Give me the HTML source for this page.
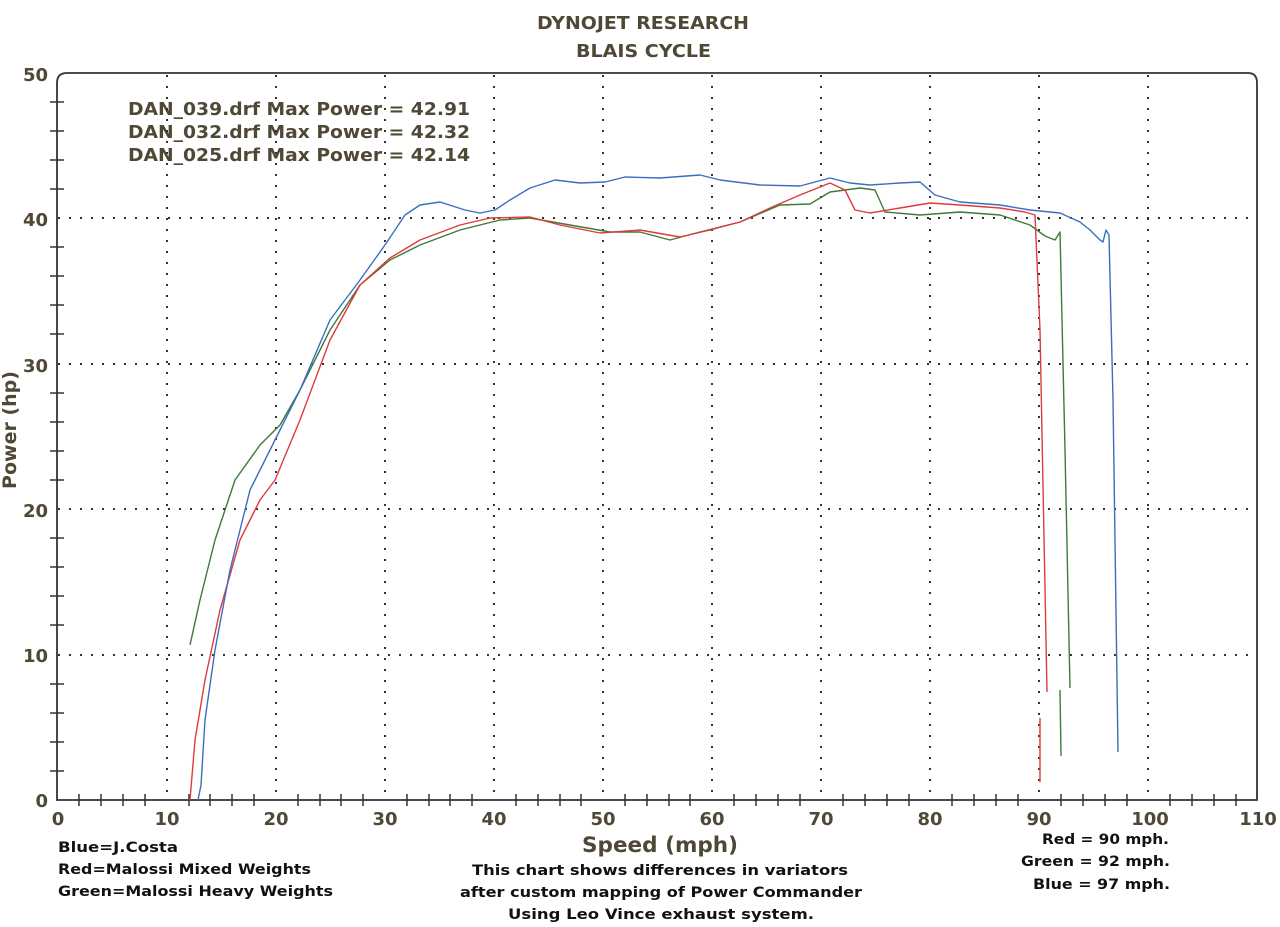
<!DOCTYPE html>
<html><head><meta charset="utf-8"><style>
body{margin:0;background:#fff;}
svg{display:block;font-family:"DejaVu Sans","Liberation Sans",sans-serif;font-weight:bold;}
</style></head><body>
<svg width="1280" height="927" viewBox="0 0 1280 927" xmlns="http://www.w3.org/2000/svg">
<rect width="1280" height="927" fill="#fff"/>
<g fill="#4f4836">
<text x="537" y="29" font-size="18" textLength="212" lengthAdjust="spacingAndGlyphs">DYNOJET RESEARCH</text>
<text x="576" y="57" font-size="18" textLength="135" lengthAdjust="spacingAndGlyphs">BLAIS CYCLE</text>
<text x="128" y="115" font-size="18" textLength="342" lengthAdjust="spacingAndGlyphs">DAN_039.drf Max Power = 42.91</text>
<text x="128" y="138" font-size="18" textLength="342" lengthAdjust="spacingAndGlyphs">DAN_032.drf Max Power = 42.32</text>
<text x="128" y="161" font-size="18" textLength="342" lengthAdjust="spacingAndGlyphs">DAN_025.drf Max Power = 42.14</text>
<g font-size="18" text-anchor="end">
<text x="48" y="81">50</text><text x="48" y="226">40</text><text x="48" y="372">30</text>
<text x="48" y="517">20</text><text x="48" y="662">10</text><text x="48" y="807">0</text>
</g>
<g font-size="18" text-anchor="middle">
<text x="58" y="825">0</text><text x="167" y="825">10</text><text x="276" y="825">20</text>
<text x="385" y="825">30</text><text x="494" y="825">40</text><text x="603" y="825">50</text>
<text x="712" y="825">60</text><text x="821" y="825">70</text><text x="930" y="825">80</text>
<text x="1039" y="825">90</text><text x="1150" y="825">100</text><text x="1258" y="825">110</text>
</g>
<text x="582" y="852" font-size="21" textLength="156" lengthAdjust="spacingAndGlyphs">Speed (mph)</text>
<text transform="translate(16,430) rotate(-90)" font-size="19" text-anchor="middle">Power (hp)</text>
</g>
<g fill="#111" font-size="14">
<text x="58" y="852" textLength="120" lengthAdjust="spacingAndGlyphs">Blue=J.Costa</text>
<text x="58" y="874" textLength="253" lengthAdjust="spacingAndGlyphs">Red=Malossi Mixed Weights</text>
<text x="58" y="896" textLength="275" lengthAdjust="spacingAndGlyphs">Green=Malossi Heavy Weights</text>
<text x="472" y="875" textLength="376" lengthAdjust="spacingAndGlyphs">This chart shows differences in variators</text>
<text x="460" y="897" textLength="402" lengthAdjust="spacingAndGlyphs">after custom mapping of Power Commander</text>
<text x="508" y="919" textLength="306" lengthAdjust="spacingAndGlyphs">Using Leo Vince exhaust system.</text>
<text x="1042" y="844" textLength="127" lengthAdjust="spacingAndGlyphs">Red = 90 mph.</text>
<text x="1021" y="866" textLength="149" lengthAdjust="spacingAndGlyphs">Green = 92 mph.</text>
<text x="1033" y="889" textLength="137" lengthAdjust="spacingAndGlyphs">Blue = 97 mph.</text>
</g>
<g stroke="#333" stroke-width="2" stroke-dasharray="2,9">
<path d="M167 75V800M276 75V800M385 75V800M494 75V800M603 75V800M712 75V800M821 75V800M930 75V800M1039 75V800M1148 75V800"/>
<path d="M58 218H1256M58 364H1256M58 509H1256M58 655H1256"/>
</g>
<path d="M57 800V83Q57 73 67 73H1248Q1257 73 1257 83V800H57Z" fill="none" stroke="#333" stroke-width="1.8"/>
<g stroke="#333" stroke-width="1.5">
<path d="M50 102H64M50 131H64M50 160H64M50 189H64M50 247H64M50 276H64M50 305H64M50 334H64M50 393H64M50 422H64M50 451H64M50 480H64M50 538H64M50 567H64M50 596H64M50 625H64M50 684H64M50 713H64M50 742H64M50 771H64"/>
<path d="M79 794V806M101 794V806M123 794V806M145 794V806M189 794V806M210 794V806M232 794V806M254 794V806M298 794V806M320 794V806M341 794V806M363 794V806M407 794V806M429 794V806M450 794V806M472 794V806M516 794V806M538 794V806M560 794V806M581 794V806M625 794V806M647 794V806M669 794V806M690 794V806M734 794V806M756 794V806M778 794V806M800 794V806M843 794V806M865 794V806M887 794V806M909 794V806M952 794V806M974 794V806M996 794V806M1018 794V806M1061 794V806M1083 794V806M1105 794V806M1127 794V806M1170 794V806M1192 794V806M1214 794V806M1236 794V806"/>
</g>
<g fill="none" stroke-width="1.4" stroke-linejoin="round">
<path stroke="#3d7a3a" d="M190 645L200 600L215 540L235 480L260 445L280 425L300 390L330 330L360 285L390 260L420 245L460 230L500 220L530 218L570 225L610 232L640 232L670 240L700 232L740 222L780 205L810 204L830 192L860 188L875 190L885 212L920 215L960 212L1000 215L1030 225L1045 236L1055 240L1060 232L1065 450L1070 688M1060 690L1061 756"/>
<path stroke="#e03a3a" d="M190 800L195 740L205 680L220 610L240 540L260 500L275 480L300 420L330 340L360 285L390 258L420 240L460 225L490 218L530 217L560 225L600 233L640 230L680 237L710 230L740 222L770 208L800 195L830 183L845 190L855 210L870 213L900 208L930 203L960 205L1000 208L1025 212L1035 215L1040 330L1047 692M1040 718L1040 782"/>
<path stroke="#3a6fc0" d="M198 800L201 785L205 720L215 650L230 570L250 490L275 440L300 390L330 320L360 280L385 245L405 215L420 205L440 202L465 210L480 213L495 210L510 200L530 188L555 180L580 183L605 182L625 177L660 178L700 175L720 180L760 185L800 186L830 178L850 183L870 185L900 183L920 182L935 195L960 202L1000 205L1030 210L1060 213L1080 222L1090 230L1100 240L1103 242L1106 230L1109 235L1113 400L1118 752"/>
</g>
</svg>
</body></html>
